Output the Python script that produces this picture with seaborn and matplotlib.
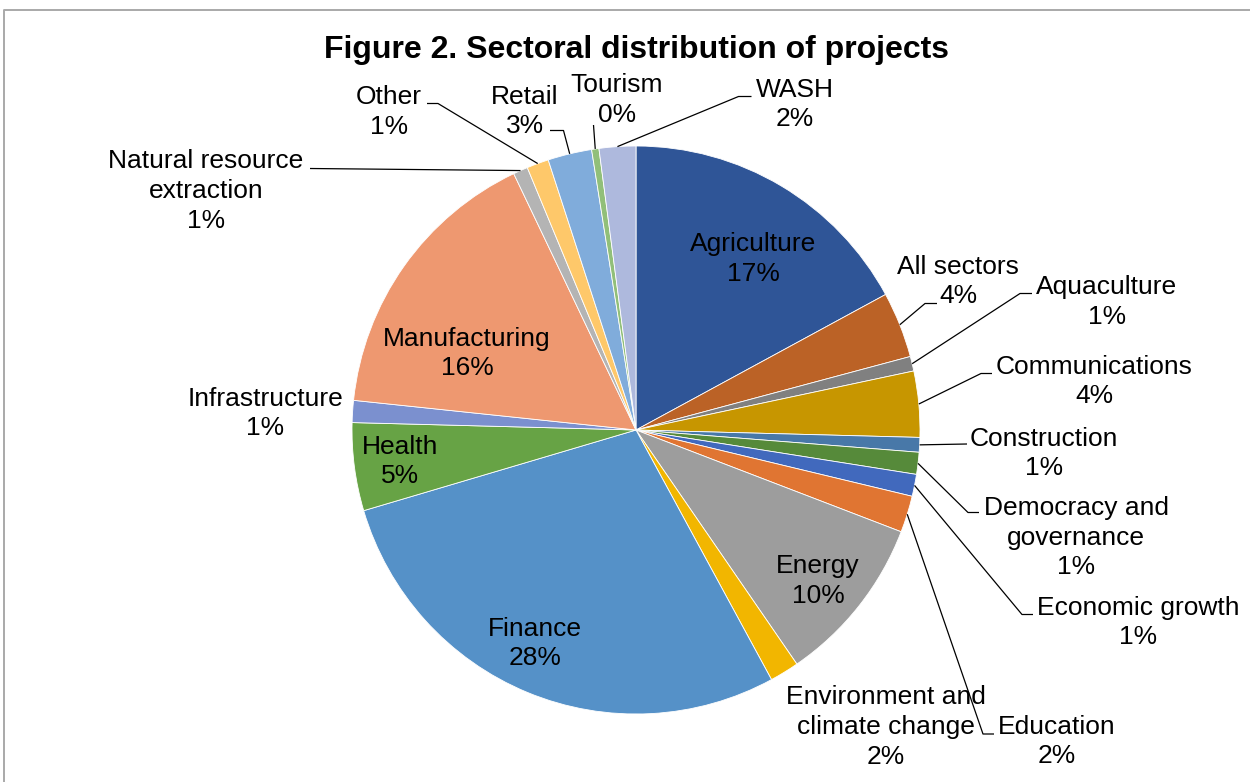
import math
import matplotlib
matplotlib.use("Agg")
import matplotlib.pyplot as plt
from matplotlib.lines import Line2D
import seaborn as sns

# ---------------- data ----------------
categories = ["Agriculture", "All sectors", "Aquaculture", "Communications", "Construction",
              "Democracy and governance", "Economic growth", "Education", "Energy",
              "Environment and climate change", "Finance", "Health", "Infrastructure",
              "Manufacturing", "Natural resource extraction", "Other", "Retail", "Tourism", "WASH"]
project_counts = [41, 9, 2, 9, 2, 3, 3, 5, 23, 4, 68, 12, 3, 39, 2, 3, 6, 1, 5]
label_text = ["Agriculture", "All sectors", "Aquaculture", "Communications", "Construction",
              "Democracy and\ngovernance", "Economic growth", "Education", "Energy",
              "Environment and\nclimate change", "Finance", "Health", "Infrastructure",
              "Manufacturing", "Natural resource\nextraction", "Other", "Retail", "Tourism", "WASH"]
title_text = "Figure 2. Sectoral distribution of projects"

# ---------------- style ----------------
slice_colors = ["#2F5597", "#BB6226", "#808080", "#C79600", "#4878A8", "#568A3A", "#4169BD",
                "#E07532", "#9D9D9D", "#F2B600", "#5591C8", "#67A345", "#7B90CF", "#EE9870",
                "#B4B4B4", "#FEC86A", "#80ACDB", "#91BF79", "#AEB9DD"]

W, H = 1250, 782
CENTER_PX = (636, 430)
RADIUS_PX = 284

# label block centres (pixels from top-left)
label_pos = [(753, 259), (958, 281.5), (1107, 302), (1094, 381.5), (1044, 453.5),
             (1076, 537.5), (1138, 622.5), (1057, 741.5), (818, 581),
             (886, 727), (535, 643.5), (400, 461.5), (265, 413.5),
             (467, 353.5), (206, 191), (389, 112), (525, 111.5), (617, 100), (795, 104.5)]
# leader line path after the slice edge (pixels), None = no leader
leader_path = [None, [(925, 303.5), (937, 303.5)], [(1020, 293.5), (1032, 293.5)],
               [(981, 373.5), (992, 373.5)], [(967, 444)],
               [(968, 512.5), (979, 512.5)], [(1022, 614.5), (1033, 614.5)],
               [(983, 734), (994, 734)], None,
               None, None, None, None,
               None, [(310, 168.5)], [(438, 103.5), (427, 103.5)],
               [(563.5, 130.5), (550, 130.5)], [(593.5, 125)], [(738.5, 96.5), (751.5, 96.5)]]

sns.set_theme(style="white")
plt.rcParams['font.family'] = ['Liberation Sans', 'DejaVu Sans']
palette = sns.color_palette(slice_colors)


def P(x, y):
    return (x, H - y)


fig = plt.figure(figsize=(W / 100, H / 100), dpi=100)
fig.patch.set_facecolor("white")
ax = fig.add_axes([0, 0, 1, 1])

wedges, _ = ax.pie(project_counts, colors=palette, startangle=90, counterclock=False,
                   center=P(*CENTER_PX), radius=RADIUS_PX,
                   wedgeprops=dict(edgecolor="white", linewidth=0.6))
ax.set_xlim(0, W)
ax.set_ylim(0, H)
ax.set_axis_off()

total = sum(project_counts)
cx, cy = P(*CENTER_PX)
for i, w in enumerate(wedges):
    pct = math.floor(100.0 * project_counts[i] / total + 0.5)
    lx, ly = P(*label_pos[i])
    ax.text(lx, ly, f"{label_text[i]}\n{pct}%", ha="center", va="center",
            fontsize=19, color="black", linespacing=1.3)
    if leader_path[i] is not None:
        mid = math.radians((w.theta1 + w.theta2) / 2.0)
        sx = cx + RADIUS_PX * math.cos(mid)
        sy = cy + RADIUS_PX * math.sin(mid)
        xs = [sx] + [p[0] for p in leader_path[i]]
        ys = [sy] + [H - p[1] for p in leader_path[i]]
        ax.plot(xs, ys, color="black", lw=0.9, solid_capstyle="butt")

fig.text(636 / W, 1 - 50 / H, title_text, ha="center", va="center",
         fontsize=23, fontweight="bold", color="black")

fig.add_artist(Line2D([4 / W, 4 / W, 1.0], [0, 1 - 10 / H, 1 - 10 / H],
                      transform=fig.transFigure, color="#A9A9A9", lw=1.4))

fig.savefig("out.png", dpi=100, facecolor="white")
